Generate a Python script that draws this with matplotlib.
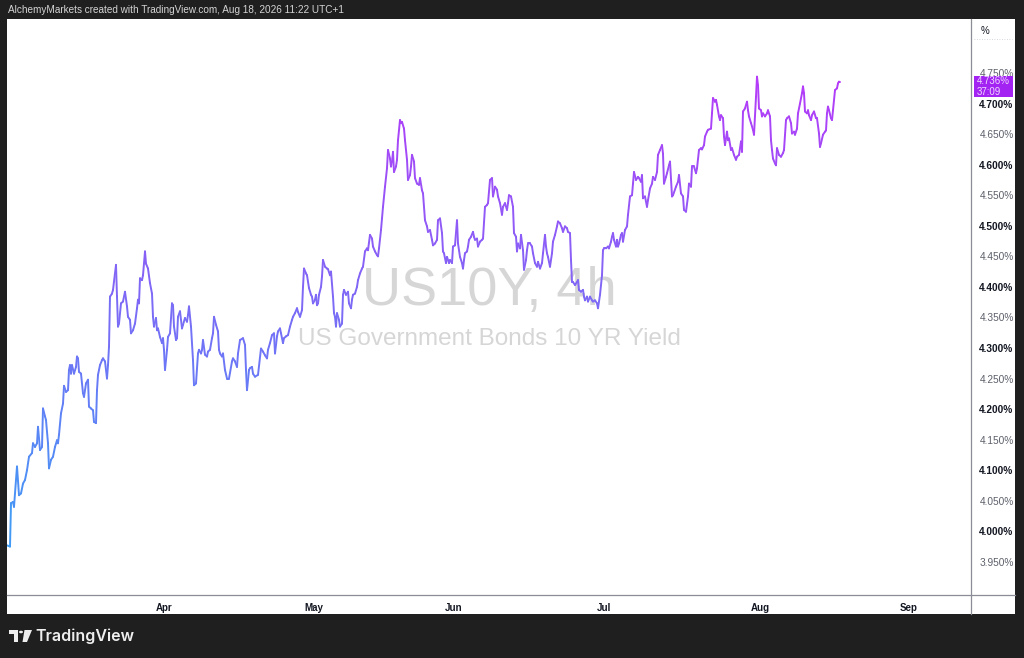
import matplotlib.pyplot as plt
import numpy as np
from matplotlib.collections import LineCollection
from matplotlib.colors import LinearSegmentedColormap
from matplotlib.patches import Rectangle, Polygon, Circle

# US10Y 4h closes (bar position, yield in %)
bars = [7, 10, 11, 13, 14, 17, 19, 21, 23, 25, 27, 29, 32, 33, 35, 37, 38, 40, 42, 43,
        45, 46, 48, 49, 51, 53, 55, 57, 58, 59, 61, 63, 64, 66, 68, 69, 70, 71, 72, 74,
        76, 77, 78, 79, 81, 83, 84, 86, 88, 89, 91, 93, 94, 96, 97, 98, 100, 102, 103, 105,
        107, 108, 109, 110, 112, 113, 116, 117, 118, 119, 121, 123, 125, 127, 128, 130, 131, 133, 135, 137,
        138, 139, 140, 142, 143, 145, 146, 148, 150, 152, 153, 154, 156, 157, 158, 160, 162, 163, 164, 165,
        167, 168, 170, 172, 173, 174, 176, 177, 178, 180, 182, 183, 185, 187, 188, 189, 191, 193, 194, 196,
        198, 199, 201, 202, 203, 205, 207, 208, 210, 212, 213, 214, 216, 218, 219, 220, 222, 223, 225, 227,
        229, 232, 233, 235, 237, 238, 240, 243, 245, 246, 247, 249,
        250, 252, 253, 255, 258, 261, 263, 265, 267, 268, 270, 272, 274, 275, 277, 278, 280, 281, 283, 284,
        286, 288, 290, 292, 293, 295, 297, 298, 300, 302, 303, 304, 306, 307, 309, 311, 312, 313, 315, 316,
        317, 318, 319, 321, 322, 323, 325, 327, 328, 330, 331, 333, 334, 335, 336, 337, 339, 340, 342, 343,
        344, 346, 348, 349, 351, 352, 353, 355, 357, 358, 360, 362, 363, 365, 367, 368, 370, 372, 373, 375,
        377, 378, 379, 381,
        382, 383, 385, 387, 388, 390, 391, 392, 393, 394, 396, 397, 398, 400, 401, 402, 404, 405, 407, 408,
        410, 411, 412, 414, 415, 417, 419, 420, 422, 423, 425,
        427, 428, 430, 432, 433, 435, 437, 438, 440, 442, 443, 444, 446, 447, 449, 450, 452, 453, 455, 457,
        458, 460, 462, 463, 464, 465, 467, 468, 469, 471, 473, 474, 475, 477, 478, 480, 482, 483, 485, 487,
        488, 490, 492, 493, 495, 497, 498, 500, 502, 503, 505, 507, 508, 509, 511, 513, 514, 516, 517, 518,
        520, 521, 523, 524, 526, 527, 528, 530, 532, 533, 535, 537, 538, 540, 542, 543, 545, 546, 547, 548,
        550, 552, 553, 555, 557, 558, 560, 562, 563, 565, 567, 568, 570, 571, 572, 573, 575, 577, 578, 579,
        581, 583, 584, 585, 587, 588, 590, 592, 593, 595, 597, 598, 600, 602, 603, 604, 606, 608, 609, 611,
        612, 613, 614, 616, 617, 618, 619, 621, 622, 623, 625, 627, 628, 630, 632, 633, 634, 636, 638, 639,
        641, 642, 643, 645, 647, 648, 650, 652, 653, 655, 657, 658, 660, 662, 663, 664, 666, 667, 669,
        670, 672, 673, 676, 678, 679, 681, 683, 684, 686, 688, 689, 691, 692, 694, 696, 697, 699, 701, 702,
        704, 705, 707, 708, 711, 712, 713, 715, 716, 717, 719, 720, 721, 723, 724, 725, 727, 728, 729, 731,
        732, 734, 736, 737, 739, 741, 742, 743, 745, 747, 748, 749, 751, 753, 754, 756, 757, 758, 759, 761,
        762, 763, 765, 767, 768, 770, 771, 772, 773, 775, 776, 777, 779, 781, 783, 784, 786, 787, 789, 791,
        792, 794, 795, 797, 798, 800, 802, 803, 804, 805, 807, 808, 809, 811, 812, 814, 816, 817, 819, 820,
        821, 823, 825, 826, 827, 828, 829, 831, 832, 833, 835, 837, 838, 839, 840]

yields = [3.977, 3.975, 4.046, 4.048, 4.040, 4.106, 4.059, 4.062, 4.078, 4.084, 4.100, 4.122, 4.128, 4.144, 4.138, 4.144, 4.171, 4.133, 4.138, 4.201,
          4.188, 4.182, 4.144, 4.103, 4.117, 4.122, 4.138, 4.149, 4.144, 4.158, 4.193, 4.209, 4.238, 4.228, 4.231, 4.264, 4.272, 4.258, 4.272, 4.258,
          4.269, 4.286, 4.283, 4.261, 4.258, 4.226, 4.220, 4.242, 4.248, 4.204, 4.201, 4.198, 4.179, 4.177, 4.231, 4.256, 4.272, 4.280, 4.283, 4.278,
          4.250, 4.272, 4.302, 4.384, 4.389, 4.395, 4.436, 4.384, 4.335, 4.340, 4.373, 4.376, 4.392, 4.368, 4.351, 4.346, 4.324, 4.329, 4.340, 4.365,
          4.379, 4.373, 4.414, 4.411, 4.419, 4.458, 4.438, 4.430, 4.406, 4.389, 4.351, 4.335, 4.349, 4.329, 4.332, 4.318, 4.308, 4.316, 4.297, 4.264,
          4.297, 4.318, 4.324, 4.373, 4.370, 4.335, 4.313, 4.316, 4.351, 4.360, 4.332, 4.338, 4.349, 4.343, 4.354, 4.368, 4.335, 4.280, 4.239, 4.242,
          4.291, 4.297, 4.291, 4.297, 4.313, 4.289, 4.286, 4.294, 4.297, 4.316, 4.324, 4.351, 4.338, 4.327, 4.297, 4.291, 4.286, 4.291, 4.264, 4.250,
          4.250, 4.278, 4.283, 4.278, 4.269, 4.291, 4.313, 4.316, 4.305, 4.264, 4.231, 4.264,
          4.267, 4.269, 4.258, 4.253, 4.256, 4.299, 4.294, 4.288, 4.283, 4.297, 4.308, 4.321, 4.324, 4.291, 4.319, 4.327, 4.332, 4.324, 4.308, 4.316,
          4.319, 4.321, 4.335, 4.346, 4.351, 4.357, 4.365, 4.359, 4.351, 4.362, 4.400, 4.430, 4.422, 4.419, 4.398, 4.387, 4.384, 4.373, 4.379, 4.387,
          4.370, 4.373, 4.387, 4.400, 4.417, 4.444, 4.433, 4.430, 4.429, 4.419, 4.425, 4.384, 4.357, 4.351, 4.335, 4.357, 4.346, 4.335, 4.340, 4.387,
          4.395, 4.387, 4.392, 4.373, 4.365, 4.379, 4.387, 4.389, 4.400, 4.411, 4.422, 4.430, 4.433, 4.458, 4.463, 4.460, 4.485, 4.479, 4.466, 4.458,
          4.452, 4.450, 4.463, 4.493,
          4.512, 4.531, 4.564, 4.594, 4.624, 4.610, 4.597, 4.605, 4.621, 4.588, 4.597, 4.608, 4.640, 4.673, 4.668, 4.670, 4.659, 4.640, 4.608, 4.575,
          4.583, 4.597, 4.616, 4.605, 4.578, 4.569, 4.567, 4.578, 4.558, 4.553, 4.509,
          4.499, 4.490, 4.493, 4.477, 4.468, 4.471, 4.477, 4.509, 4.512, 4.488, 4.458, 4.455, 4.439, 4.449, 4.439, 4.444, 4.439, 4.466, 4.468, 4.509,
          4.471, 4.449, 4.439, 4.430, 4.444, 4.455, 4.458, 4.466, 4.477, 4.482, 4.490, 4.482, 4.477, 4.479, 4.466, 4.474, 4.477, 4.479, 4.531, 4.534,
          4.537, 4.575, 4.578, 4.548, 4.564, 4.559, 4.548, 4.537, 4.518, 4.531, 4.537, 4.526, 4.537, 4.550, 4.548, 4.531, 4.488, 4.482, 4.458, 4.471,
          4.463, 4.485, 4.460, 4.428, 4.444, 4.460, 4.471, 4.471, 4.466, 4.455, 4.439, 4.433, 4.441, 4.430, 4.439, 4.455, 4.485, 4.466, 4.455, 4.449,
          4.433, 4.455, 4.474, 4.485, 4.499, 4.507, 4.504, 4.496, 4.490, 4.499, 4.496, 4.490, 4.488, 4.444, 4.408, 4.408, 4.403, 4.408, 4.411, 4.395,
          4.392, 4.395, 4.384, 4.378, 4.384, 4.376, 4.384, 4.378, 4.376, 4.378, 4.373, 4.365, 4.387, 4.419, 4.460, 4.463, 4.463, 4.466, 4.463, 4.474,
          4.482, 4.488, 4.477, 4.466, 4.477, 4.466, 4.471, 4.485, 4.488, 4.474, 4.493, 4.499, 4.518, 4.548, 4.550, 4.569, 4.588, 4.575, 4.580, 4.578,
          4.572, 4.583, 4.545, 4.548, 4.531, 4.542, 4.561, 4.569, 4.580, 4.575, 4.588, 4.616, 4.624, 4.632, 4.618, 4.569, 4.580, 4.586, 4.599,
          4.605, 4.548, 4.550, 4.564, 4.572, 4.583, 4.553, 4.548, 4.526, 4.523, 4.548, 4.569, 4.564, 4.597, 4.597, 4.586, 4.594, 4.624, 4.627, 4.625,
          4.632, 4.646, 4.654, 4.657, 4.659, 4.684, 4.709, 4.703, 4.706, 4.698, 4.679, 4.673, 4.681, 4.676, 4.646, 4.632, 4.654, 4.640, 4.643, 4.624,
          4.627, 4.616, 4.608, 4.613, 4.616, 4.638, 4.621, 4.687, 4.692, 4.703, 4.689, 4.679, 4.668, 4.657, 4.649, 4.711, 4.744, 4.730, 4.692, 4.689,
          4.679, 4.684, 4.679, 4.684, 4.689, 4.679, 4.640, 4.624, 4.610, 4.602, 4.599, 4.627, 4.616, 4.613, 4.619, 4.624, 4.673, 4.676, 4.679, 4.668,
          4.651, 4.654, 4.649, 4.659, 4.684, 4.700, 4.717, 4.728, 4.717, 4.687, 4.684, 4.689, 4.681, 4.673, 4.681, 4.687, 4.676, 4.676, 4.651, 4.629,
          4.635, 4.649, 4.654, 4.656, 4.684, 4.695, 4.689, 4.676, 4.673, 4.689, 4.722, 4.725, 4.733, 4.736, 4.736]

month_pos = [164, 314, 454, 604, 760, 909]
month_labels = ['Apr', 'May', 'Jun', 'Jul', 'Aug', 'Sep']
price_ticks = [3.95, 4.00, 4.05, 4.10, 4.15, 4.20, 4.25, 4.30, 4.35, 4.40,
               4.45, 4.50, 4.55, 4.60, 4.65, 4.70, 4.75]
last_price = '4.736%'
countdown = '37:09'

W, H = 1024, 658
fig = plt.figure(figsize=(W / 100, H / 100), dpi=100, facecolor='#1f1f1f')

def fx(px):
    return px / W

def fy(py):
    return 1 - py / H

# white chart panel (behind the axes)
fig.patches.append(Rectangle((fx(7), fy(614)), fx(1015 - 7), (614 - 19) / H,
                             transform=fig.transFigure, facecolor='white', edgecolor='none', zorder=-5))

ax = fig.add_axes([fx(7), fy(595), fx(971 - 7), (595 - 19) / H])
ax.set_zorder(1)
ax.set_facecolor('white')
ax.set_xlim(7, 971)
ax.set_ylim(3.8957, 4.8384)

x = np.array(bars, dtype=float)
y = np.array(yields)
pts = np.column_stack([x, y]).reshape(-1, 1, 2)
segs = np.concatenate([pts[:-1], pts[1:]], axis=1)
cmap = LinearSegmentedColormap.from_list('tv', ['#3d9ef5', '#7a6cf6', '#b63af8'])
lc = LineCollection(segs, cmap=cmap, norm=plt.Normalize(y.min(), y.max()),
                    linewidth=1.4, capstyle='round', joinstyle='round', zorder=3)
lc.set_array((y[:-1] + y[1:]) / 2)
ax.add_collection(lc)

for s in ax.spines.values():
    s.set_visible(False)

ax.set_xticks(month_pos)
ax.set_xticklabels(month_labels, fontsize=7, fontweight='bold', color='#131722',
                   family='Liberation Sans')
ax.tick_params(axis='x', length=0, pad=6)

ax.yaxis.tick_right()
ax.set_yticks(price_ticks)
ax.set_yticklabels(['%.3f%%' % v for v in price_ticks], family='Liberation Sans', fontsize=7.3)
ax.tick_params(axis='y', length=0, pad=6)
for v, lab in zip(price_ticks, ax.get_yticklabels()):
    if round(v * 100) % 10 == 0:
        lab.set_fontweight('bold')
        lab.set_color('#131722')
    else:
        lab.set_color('#5d606b')

# watermark
ax.text(0.5, 1 - (291 - 19) / (595 - 19), 'US10Y, 4h', transform=ax.transAxes, ha='center', va='center',
        fontsize=39, color='#d6d6d6', family='Liberation Sans', zorder=1)
ax.text(0.5, 1 - (339 - 19) / (595 - 19), 'US Government Bonds 10 YR Yield', transform=ax.transAxes,
        ha='center', va='center', fontsize=17.5, color='#d6d6d6', family='Liberation Sans', zorder=1)

# separators of the price and time scales
fig.add_artist(plt.Line2D([fx(971), fx(971)], [fy(19), fy(614)], color='#8a8d96', lw=0.9, zorder=5))
fig.add_artist(plt.Line2D([fx(7), fx(1015)], [fy(595), fy(595)], color='#8a8d96', lw=0.9, zorder=5))
fig.add_artist(plt.Line2D([fx(974), fx(1012)], [fy(39), fy(39)], color='#c8cad0', lw=0.6,
                          ls=(0, (1, 2)), zorder=5))
fig.text(fx(981), fy(31), '%', fontsize=7, color='#131722', family='Liberation Sans', va='center')

# last price label
fig.patches.append(Rectangle((fx(974), fy(97)), fx(1013 - 974), 21 / H, transform=fig.transFigure,
                             facecolor='#a324f2', edgecolor='none', zorder=6))
fig.text(fx(977), fy(81), last_price, fontsize=7, color='#f1d9ff', family='Liberation Sans',
         va='center', zorder=7)
fig.text(fx(977), fy(92), countdown, fontsize=7, color='#f1d9ff', family='Liberation Sans',
         va='center', zorder=7)

# header and footer
fig.text(fx(8), fy(10), 'AlchemyMarkets created with TradingView.com, Aug 18, 2026 11:22 UTC+1',
         fontsize=7.2, color='#d4d4d4', family='Liberation Sans', va='center')
fig.text(fx(35), fy(636), 'TradingView', fontsize=11.5, color='#eeeeee', family='Inter',
         fontweight='semibold', va='center')
logo = '#eeeeee'
fig.patches.append(Rectangle((fx(8.5), fy(634)), fx(9.5), 4 / H, transform=fig.transFigure,
                             facecolor=logo, edgecolor='none'))
fig.patches.append(Rectangle((fx(13.5), fy(642)), fx(4.5), 12 / H, transform=fig.transFigure,
                             facecolor=logo, edgecolor='none'))
fig.patches.append(Circle((fx(21), fy(632)), 2 / W, transform=fig.transFigure,
                          facecolor=logo, edgecolor='none'))
fig.patches.append(Polygon([(fx(24.5), fy(630)), (fx(32), fy(630)), (fx(27), fy(642)), (fx(22.5), fy(642))],
                           closed=True, transform=fig.transFigure, facecolor=logo, edgecolor='none'))

plt.savefig('out.png', dpi=100, facecolor=fig.get_facecolor())
